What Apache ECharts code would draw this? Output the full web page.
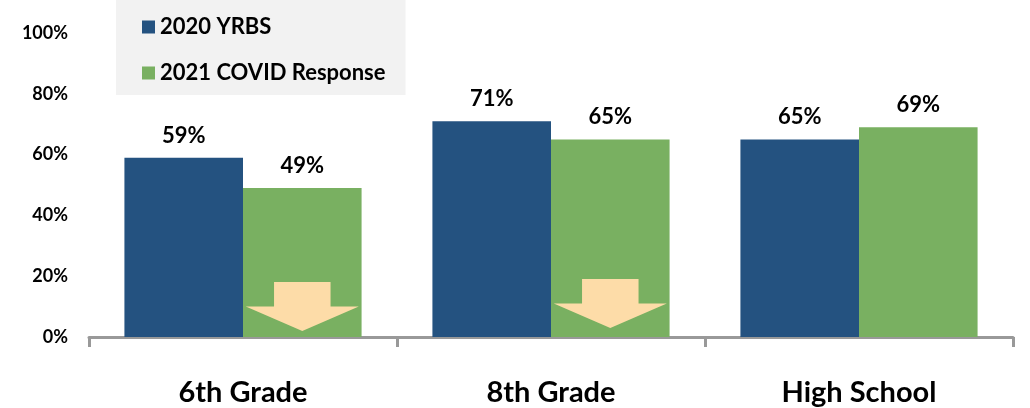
<!DOCTYPE html>
<html>
<head>
<meta charset="utf-8">
<script src="https://cdn.jsdelivr.net/npm/echarts@6/dist/echarts.min.js"></script>
<style>
  html, body { margin: 0; padding: 0; background: #fff; }
  #chart { width: 1030px; height: 408px; }
</style>
</head>
<body>
<div id="chart"></div>
<script>
// 数据
const categories = ['6th Grade', '8th Grade', 'High School'];
const yrbs2020 = [59, 71, 65];
const covid2021 = [49, 65, 69];
const yTicks = [0, 20, 40, 60, 80, 100];
// 下降箭头位置（类目, 数值中心）
const dropArrows = [['6th Grade', 10], ['8th Grade', 11]];

const FONT = 'Lato';
const arrowPath = 'path://M25,0 L75,0 L75,50 L100,50 L50,100 L0,50 L25,50 Z';

const chart = echarts.init(document.getElementById('chart'));

const barLabel = {
  show: true,
  position: 'top',
  distance: 11,
  formatter: '{c}%',
  fontFamily: FONT,
  fontWeight: 'bold',
  fontSize: 22,
  color: '#000',
};

const option = {
  animation: false,
  textStyle: { fontFamily: FONT },
  grid: {
    left: 89,
    right: 17,
    top: 33,
    bottom: 71,
    containLabel: false,
  },
  legend: {
    orient: 'vertical',
    left: 116,
    top: 0,
    backgroundColor: '#f2f2f2',
    padding: [16, 20, 11, 26],
    itemGap: 24,
    itemWidth: 13,
    itemHeight: 13,
    icon: 'rect',
    textStyle: {
      fontFamily: FONT,
      fontWeight: 'bold',
      fontSize: 22,
      color: '#000',
    },
    data: ['2020 YRBS', '2021 COVID Response'],
  },
  xAxis: {
    type: 'category',
    data: categories,
    axisLine: {
      show: true,
      lineStyle: { color: '#999', width: 3 },
    },
    axisTick: {
      show: true,
      length: 10,
      lineStyle: { color: '#999', width: 3 },
    },
    axisLabel: {
      margin: 41,
      fontFamily: FONT,
      fontWeight: 'bold',
      fontSize: 29,
      color: '#000',
    },
  },
  yAxis: {
    type: 'value',
    min: yTicks[0],
    max: yTicks[yTicks.length - 1],
    interval: 20,
    axisLine: { show: false },
    axisTick: { show: false },
    splitLine: { show: false },
    axisLabel: {
      margin: 21,
      formatter: '{value}%',
      fontFamily: FONT,
      fontWeight: 'bold',
      fontSize: 18,
      color: '#000',
    },
  },
  series: [
    {
      name: '2020 YRBS',
      type: 'bar',
      data: yrbs2020,
      barGap: '0%',
      barCategoryGap: '23%',
      itemStyle: { color: '#245280' },
      label: barLabel,
    },
    {
      name: '2021 COVID Response',
      type: 'bar',
      data: covid2021,
      barGap: '0%',
      barCategoryGap: '23%',
      itemStyle: { color: '#79b061' },
      label: barLabel,
      markPoint: {
        symbol: arrowPath,
        symbolSize: [113, 49],
        symbolKeepAspect: false,
        silent: true,
        itemStyle: { color: '#fddca8' },
        label: { show: false },
        data: dropArrows.map(function (a) { return { coord: a }; }),
      },
    },
  ],
};

chart.setOption(option);
</script>
</body>
</html>
